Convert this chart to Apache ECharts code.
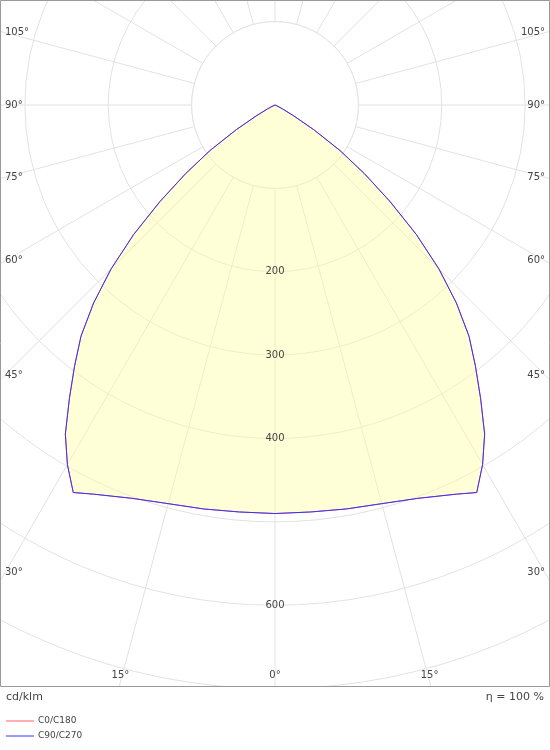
<!DOCTYPE html>
<html><head><meta charset="utf-8">
<script src="https://cdn.jsdelivr.net/npm/echarts@6/dist/echarts.min.js"></script>
<style>html,body{margin:0;padding:0;background:#fff}#c{width:550px;height:750px}</style>
</head><body><div id="c"></div>
<script>
// luminous intensity (cd/klm) vs gamma angle, symmetric
var gammaAngles = [0, 5, 10, 15, 20, 25, 27.5, 30, 32.5, 35, 37.5, 40, 42.5, 45, 47.5, 50, 52.5, 55, 57.5, 60, 62.5, 65, 70, 80, 90];
var intensity   = [490, 490, 492, 495, 502, 515, 524, 498, 468, 430, 395, 362, 322, 278, 230, 180, 135, 95, 55, 25, 10, 4, 1, 0, 0];
var radiusLabels = [200, 300, 400, 600];
var angleLabels = [0, 15, 30, 45, 60, 75, 90, 105];
var seriesNames = ['C0/C180', 'C90/C270'];

function curve() {
  var pts = [];
  for (var i = gammaAngles.length - 1; i >= 0; i--) pts.push([intensity[i], gammaAngles[i]]);
  for (var j = 1; j < gammaAngles.length; j++) pts.push([intensity[j], 360 - gammaAngles[j]]);
  return pts;
}

var chart = echarts.init(document.getElementById('c'));
var cx = 275, cy = 105, R = 667; // 800 cd at R px
var font = 'DejaVu Sans, sans-serif';
chart.setOption({
  animation: false,
  polar: { center: [cx, cy], radius: R },
  angleAxis: {
    type: 'value', min: 0, max: 360, interval: 15, startAngle: 270, clockwise: true,
    axisLine: { show: false }, axisTick: { show: false }, axisLabel: { show: false },
    splitLine: { lineStyle: { color: '#e2e2e2', width: 1 } }
  },
  radiusAxis: {
    type: 'value', min: 0, max: 800, interval: 100,
    axisLine: { show: false }, axisTick: { show: false }, axisLabel: { show: false },
    splitLine: { lineStyle: { color: '#e2e2e2', width: 1 } }
  },
  series: [
    { name: seriesNames[0], type: 'line', coordinateSystem: 'polar', showSymbol: false, z: 5,
      data: curve(), lineStyle: { color: '#ff6060', width: 1 },
      areaStyle: { color: 'rgba(255,255,160,0.6)' } },
    { name: seriesNames[1], type: 'line', coordinateSystem: 'polar', showSymbol: false, z: 6,
      data: curve(), lineStyle: { color: '#3333ff', width: 1 } }
  ]
});

var els = [];
// white hole inside 100 circle
var r100 = chart.convertToPixel({ polarIndex: 0 }, [100, 90]);
var hr = Math.abs(r100[0] - cx);
els.push({ type: 'circle', shape: { cx: cx, cy: cy, r: hr }, style: { fill: '#fff', stroke: '#e2e2e2' }, z: 2 });
// mask below plot area
els.push({ type: 'rect', shape: { x: 0, y: 687, width: 550, height: 63 }, style: { fill: '#fff' }, z: 10 });
els.push({ type: 'rect', shape: { x: 0.5, y: 0.5, width: 549, height: 686 }, style: { fill: 'none', stroke: '#999' }, z: 11 });
radiusLabels.forEach(function (v) {
  var p = chart.convertToPixel({ polarIndex: 0 }, [v, 0]);
  els.push({ type: 'text', x: p[0], y: p[1], z: 12,
    style: { text: String(v), font: '10px ' + font, fill: '#444', align: 'center', verticalAlign: 'middle', backgroundColor: 'transparent' } });
});
angleLabels.forEach(function (a) {
  var rad = a * Math.PI / 180;
  var dx = Math.sin(rad), dy = Math.cos(rad);
  var tb = (682 - cy) / dy, ts = (270) / Math.abs(dx || 1e-9);
  if (dy > 0 && tb < ts) {
    var x = cx + dx * tb;
    [x, 2 * cx - x].forEach(function (xx, k) {
      if (a === 0 && k === 1) return;
      els.push({ type: 'text', x: xx, y: 675, z: 12, style: { text: a + '°', font: '10px ' + font, fill: '#444', align: 'center', verticalAlign: 'middle' } });
    });
  } else {
    var y = cy + dy * (270 / dx);
    els.push({ type: 'text', x: 5, y: y, z: 12, style: { text: a + '°', font: '10px ' + font, fill: '#444', align: 'left', verticalAlign: 'middle' } });
    els.push({ type: 'text', x: 545, y: y, z: 12, style: { text: a + '°', font: '10px ' + font, fill: '#444', align: 'right', verticalAlign: 'middle' } });
  }
});
els.push({ type: 'text', x: 6, y: 697, z: 12, style: { text: 'cd/klm', font: '11px ' + font, fill: '#444', verticalAlign: 'middle' } });
els.push({ type: 'text', x: 544, y: 697, z: 12, style: { text: 'η = 100 %', font: '11px ' + font, fill: '#444', align: 'right', verticalAlign: 'middle' } });
var legendColors = ['#ff6060', '#3333ff'];
seriesNames.forEach(function (n, i) {
  var y = 721 + i * 15;
  els.push({ type: 'line', shape: { x1: 6, y1: y, x2: 34, y2: y }, style: { stroke: legendColors[i], lineWidth: 1 }, z: 12 });
  els.push({ type: 'text', x: 38, y: y, z: 12, style: { text: n, font: '9px ' + font, fill: '#444', verticalAlign: 'middle' } });
});
chart.setOption({ graphic: { elements: els } });
</script></body></html>
